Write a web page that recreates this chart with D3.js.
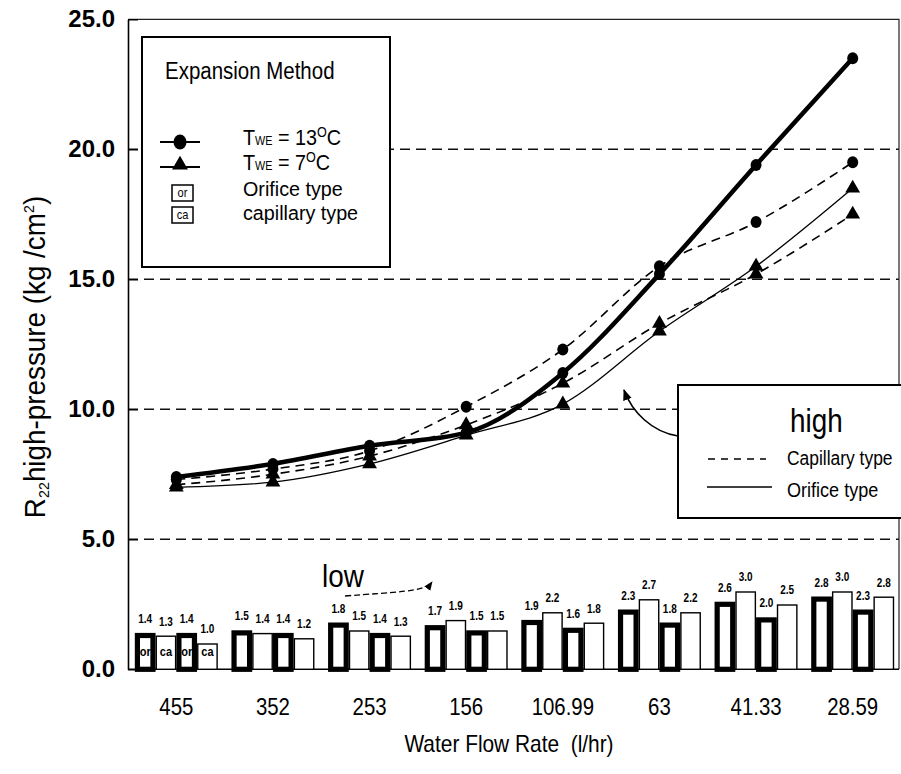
<!DOCTYPE html>
<html><head><meta charset="utf-8">
<script src="https://cdn.jsdelivr.net/npm/d3@7"></script>
<style>
body{margin:0;background:#fff}
text{font-family:"Liberation Sans",Arial,sans-serif;fill:#000}
</style>
</head><body><svg id="c" width="901" height="774"></svg>
<script>
// ---------- data ----------
const categories = ["455","352","253","156","106.99","63","41.33","28.59"];
const barKeys = ["or13","ca13","or7","ca7"];
const barOr13 = [1.4,1.5,1.8,1.7,1.9,2.3,2.6,2.8];
const barCa13 = [1.3,1.4,1.5,1.9,2.2,2.7,3.0,3.0];
const barOr7  = [1.4,1.4,1.4,1.5,1.6,1.8,2.0,2.3];
const barCa7  = [1.0,1.2,1.3,1.5,1.8,2.2,2.5,2.8];
const highOr13 = [7.4,7.9,8.6,9.1,11.4,15.2,19.4,23.5];
const highCa13 = [7.3,7.7,8.4,10.1,12.3,15.5,17.2,19.5];
const highOr7  = [7.0,7.2,7.9,9.0,10.2,13.0,15.5,18.5];
const highCa7  = [7.1,7.5,8.2,9.4,11.0,13.3,15.2,17.5];
const yTicks = [0,5,10,15,20,25];
const gridValues = [5,10,15,20];

const svg = d3.select("#c");
const X0 = 128, X1 = 899, Y0 = 669.3, Y1 = 19.3;
const x = d3.scaleBand().domain(categories).range([X0, 901]).padding(0);
const xc = c => x(c) + x.bandwidth()/2;
const x1 = d3.scaleBand().domain(barKeys).range([-41.5, 41.5]);
const y = d3.scaleLinear().domain([0,25]).range([Y0, Y1]);

function ntext(parent, px, py, size, str, sx=0.86, anchor="start"){
  return parent.append("text").attr("transform",`translate(${px},${py}) scale(${sx},1)`)
    .attr("font-size",size).attr("text-anchor",anchor).text(str);
}

const defs = svg.append("defs");
defs.append("marker").attr("id","ah").attr("viewBox","0 0 10 10").attr("refX",9).attr("refY",5)
  .attr("markerWidth",7).attr("markerHeight",7).attr("orient","auto-start-reverse")
  .append("path").attr("d","M0,1 L10,5 L0,9 z").attr("fill","#000");

// grid
svg.append("g").selectAll("line").data(gridValues).join("line")
  .attr("x1",X0).attr("x2",X1).attr("y1",d=>y(d)).attr("y2",d=>y(d))
  .attr("stroke","#111").attr("stroke-width",1.5).attr("stroke-dasharray","10,6");

// frame top/right
svg.append("path").attr("d",`M${X0},${Y1}H${X1}V${Y0}`).attr("fill","none").attr("stroke","#222").attr("stroke-width",1.2);

// y axis
const ya = svg.append("g").attr("transform",`translate(${X0},0)`)
  .call(d3.axisLeft(y).tickValues(yTicks).tickFormat(d3.format(".1f")).tickSize(-10).tickSizeOuter(0).tickPadding(13));
ya.select(".domain").attr("stroke","#000").attr("stroke-width",1.6);
ya.selectAll(".tick line").attr("stroke","#000").attr("stroke-width",1.4);
ya.selectAll("text").attr("font-weight","bold").attr("font-size",24).attr("fill","#000");

// x axis
const xa = svg.append("g").attr("transform",`translate(0,${Y0})`)
  .call(d3.axisBottom(x).tickSize(0).tickSizeOuter(0));
xa.select(".domain").attr("stroke","#000").attr("stroke-width",1.6).attr("d",`M${X0},0H${X1}`);
xa.selectAll("text").attr("font-size",24).attr("fill","#000").attr("font-family","'Liberation Sans',Arial,sans-serif")
  .attr("y",null).attr("dy",0).attr("transform","translate(0,46) scale(0.85,1)");

// bars
const barSeries = {or13:barOr13, ca13:barCa13, or7:barOr7, ca7:barCa7};
const bw = x1.bandwidth();
const barData = [];
categories.forEach((c,i)=>barKeys.forEach(k=>barData.push({c,k,v:barSeries[k][i],thick:k.startsWith("or")})));
const bg = svg.append("g");
bg.selectAll("rect").data(barData).join("rect")
  .attr("x",d=>xc(d.c)+x1(d.k)+(d.thick?2.6:0.7))
  .attr("width",d=>bw-(d.thick?5.2:1.4))
  .attr("y",d=>y(d.v)+(d.thick?2.6:0.7))
  .attr("height",d=>Y0-y(d.v)-(d.thick?2.6:0.7))
  .attr("fill","#fff").attr("stroke","#000").attr("stroke-width",d=>d.thick?5.2:1.4);
bg.selectAll("text.val").data(barData).join("text").attr("class","val")
  .attr("transform",d=>`translate(${xc(d.c)+x1(d.k)+bw/2},${y(d.v)-10}) scale(0.8,1)`)
  .attr("text-anchor","middle").attr("font-size",12.5).attr("font-weight","bold").text(d=>d.v.toFixed(1));
bg.selectAll("text.in").data(barData.filter(d=>d.c===categories[0])).join("text").attr("class","in")
  .attr("transform",d=>`translate(${xc(d.c)+x1(d.k)+bw/2},656) scale(0.85,1)`)
  .attr("text-anchor","middle").attr("font-size",13).attr("font-weight","bold").text(d=>d.thick?"or":"ca");

// lines
const lineSeries = [
  {vals:highOr13, w:4.5, dash:null, mark:"c"},
  {vals:highCa13, w:1.6, dash:"9,6", mark:"c"},
  {vals:highOr7,  w:1.3, dash:null, mark:"t"},
  {vals:highCa7,  w:1.6, dash:"9,6", mark:"t"}
];
const line = d3.line().x((d,i)=>xc(categories[i])).y(d=>y(d)).curve(d3.curveMonotoneX);
const lg = svg.append("g");
lineSeries.forEach(s=>{
  lg.append("path").attr("d",line(s.vals)).attr("fill","none").attr("stroke","#000")
    .attr("stroke-width",s.w).attr("stroke-dasharray",s.dash);
  const g = lg.append("g");
  if(s.mark==="c"){
    g.selectAll("ellipse").data(s.vals).join("ellipse").attr("cx",(d,i)=>xc(categories[i])).attr("cy",d=>y(d))
      .attr("rx",5.5).attr("ry",6).attr("fill","#000");
  } else {
    g.selectAll("path").data(s.vals).join("path")
      .attr("transform",(d,i)=>`translate(${xc(categories[i])},${y(d)})`)
      .attr("d",d3.symbol(d3.symbolTriangle,95)).attr("fill","#000");
  }
});

// y title
const yt = svg.append("text").attr("transform","translate(45,357) rotate(-90) scale(0.96,1)").attr("text-anchor","middle")
  .attr("font-size",29);
yt.append("tspan").text("R");
yt.append("tspan").attr("font-size",15).attr("dy",4).text("22");
yt.append("tspan").attr("dy",-4).text("high-pressure (kg /cm");
yt.append("tspan").attr("font-size",15).attr("dy",-11).text("2");
yt.append("tspan").attr("dy",11).text(")");

// x title
ntext(svg, 509, 752, 24, "Water Flow Rate  (l/hr)", 0.87, "middle").attr("xml:space","preserve");

// legend box
const L = svg.append("g");
L.append("rect").attr("x",142).attr("y",37).attr("width",248).attr("height",230).attr("fill","#fff").attr("stroke","#000").attr("stroke-width",2);
ntext(L, 165, 79, 23, "Expansion Method", 0.89);
[[145,"c","13"],[170,"t","7"]].forEach(([yy,m,t])=>{
  L.append("line").attr("x1",160).attr("x2",200).attr("y1",yy-3).attr("y2",yy-3).attr("stroke","#000").attr("stroke-width",2);
  if(m==="c") L.append("ellipse").attr("cx",180).attr("cy",yy-3).attr("rx",6.5).attr("ry",7.5);
  else L.append("path").attr("transform",`translate(180,${yy-5})`).attr("d",d3.symbol(d3.symbolTriangle,110));
  const tx = ntext(L, 243, yy, 22, "", 0.9);
  tx.append("tspan").text("T");
  tx.append("tspan").attr("font-size",12).text("WE");
  tx.append("tspan").text(` = ${t}`);
  tx.append("tspan").attr("font-size",14).attr("dy",-8).text("O");
  tx.append("tspan").attr("dy",8).text("C");
});
[[185,"or","Orifice type",196],[207,"ca","capillary type",220]].forEach(([yy,ab,lab,by])=>{
  L.append("rect").attr("x",172).attr("y",yy).attr("width",21).attr("height",16).attr("fill","#fff").attr("stroke","#000").attr("stroke-width",1.5);
  ntext(L, 182.5, yy+12, 13, ab, 0.85, "middle");
  ntext(L, 243, by, 21, lab, 0.94);
});

// high box
const H = svg.append("g");
H.append("rect").attr("x",678).attr("y",385).attr("width",240).attr("height",133).attr("fill","#fff").attr("stroke","#000").attr("stroke-width",2);
ntext(H, 790, 432, 34, "high", 0.82);
H.append("line").attr("x1",708).attr("x2",766).attr("y1",459).attr("y2",459).attr("stroke","#000").attr("stroke-width",1.4).attr("stroke-dasharray","7,6");
H.append("line").attr("x1",707).attr("x2",772).attr("y1",487).attr("y2",487).attr("stroke","#000").attr("stroke-width",1.6);
ntext(H, 787, 465, 21, "Capillary type", 0.83);
ntext(H, 787, 497, 21, "Orifice type", 0.86);
svg.append("path").attr("d","M678,436 C652,432 632,412 624,390").attr("fill","none").attr("stroke","#000").attr("stroke-width",1.6).attr("marker-end","url(#ah)");

// low
ntext(svg, 322, 587, 31, "low", 0.9);
svg.append("path").attr("d","M345,596 C395,592 425,592 432,582").attr("fill","none").attr("stroke","#000").attr("stroke-width",1.3).attr("stroke-dasharray","6,3").attr("marker-end","url(#ah)");
</script></body></html>
